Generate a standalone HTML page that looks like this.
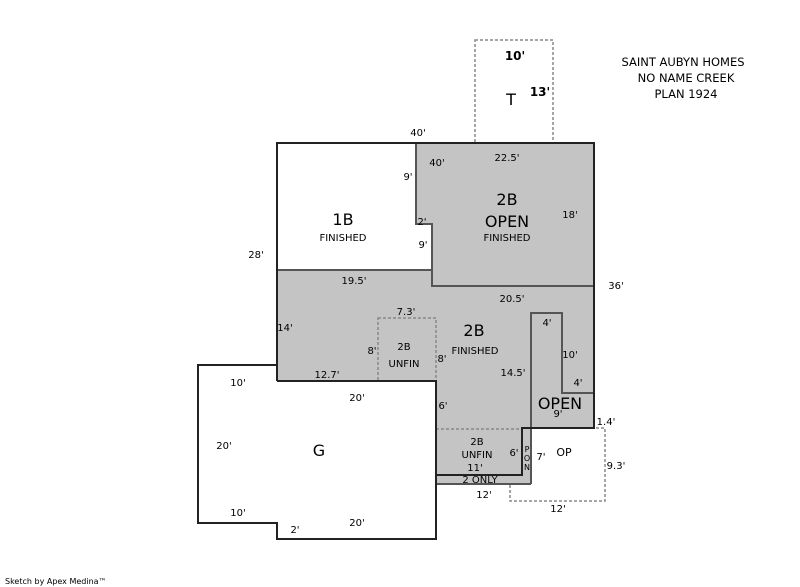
<!DOCTYPE html>
<html><head><style>
html,body{margin:0;padding:0;background:#fff;width:800px;height:587px;overflow:hidden}
svg text{font-family:"DejaVu Sans","Liberation Sans",sans-serif;font-size:10px;fill:#000}
.b{font-size:16px}
</style></head><body>
<svg width="800" height="587" viewBox="0 0 800 587">
<polygon points="416,143 594,143 594,428 531,428 531,484 436,484 436,381 277,381 277,270 432,270 432,224 416,224" fill="#c4c4c4"/>
<g fill="none" stroke="#888" stroke-width="1.5" stroke-dasharray="3,2">
<rect x="475" y="40" width="78" height="103"/>
<rect x="378" y="318" width="58" height="63"/>
<line x1="436" y1="429" x2="522" y2="429"/>
<polyline points="531,428 605,428 605,501 510,501 510,484"/>
</g>
<g fill="none" stroke="#555" stroke-width="2">
<polyline points="277,270 432,270 432,286 594,286"/>
<polyline points="416,143 416,224 432,224 432,270"/>
<polyline points="531,484 531,313 562,313 562,393 594,393"/>
<line x1="436" y1="484" x2="531" y2="484"/>
</g>
<g fill="none" stroke="#222" stroke-width="2">
<polyline points="277,381 277,143 594,143 594,428 522,428 522,475 436,475 436,539 277,539 277,523 198,523 198,365 277,365"/>
<polyline points="277,381 436,381 436,475"/>
</g>
<text x="418" y="136" text-anchor="middle">40'</text>
<text x="515" y="60" text-anchor="middle" font-weight="bold" style="font-size:12px">10'</text>
<text x="540" y="96" text-anchor="middle" font-weight="bold" style="font-size:12px">13'</text>
<text x="511" y="105" text-anchor="middle" class="b">T</text>
<text x="683" y="66" text-anchor="middle" style="font-size:11.5px">SAINT AUBYN HOMES</text>
<text x="686" y="82" text-anchor="middle" style="font-size:11.5px">NO NAME CREEK</text>
<text x="686" y="98" text-anchor="middle" style="font-size:11.5px">PLAN 1924</text>
<text x="437" y="166" text-anchor="middle">40'</text>
<text x="507" y="161" text-anchor="middle">22.5'</text>
<text x="408" y="180" text-anchor="middle">9'</text>
<text x="422" y="225" text-anchor="middle">2'</text>
<text x="423" y="248" text-anchor="middle">9'</text>
<text x="570" y="218" text-anchor="middle">18'</text>
<text x="343" y="225" text-anchor="middle" class="b">1B</text>
<text x="343" y="241" text-anchor="middle">FINISHED</text>
<text x="507" y="205" text-anchor="middle" class="b">2B</text>
<text x="507" y="227" text-anchor="middle" class="b">OPEN</text>
<text x="507" y="241" text-anchor="middle">FINISHED</text>
<text x="256" y="258" text-anchor="middle">28'</text>
<text x="616" y="289" text-anchor="middle">36'</text>
<text x="354" y="284" text-anchor="middle">19.5'</text>
<text x="512" y="302" text-anchor="middle">20.5'</text>
<text x="285" y="331" text-anchor="middle">14'</text>
<text x="406" y="315" text-anchor="middle">7.3'</text>
<text x="372" y="354" text-anchor="middle">8'</text>
<text x="442" y="362" text-anchor="middle">8'</text>
<text x="404" y="350" text-anchor="middle">2B</text>
<text x="404" y="367" text-anchor="middle">UNFIN</text>
<text x="474" y="336" text-anchor="middle" class="b">2B</text>
<text x="475" y="354" text-anchor="middle">FINISHED</text>
<text x="547" y="326" text-anchor="middle">4'</text>
<text x="570" y="358" text-anchor="middle">10'</text>
<text x="578" y="386" text-anchor="middle">4'</text>
<text x="513" y="376" text-anchor="middle">14.5'</text>
<text x="560" y="409" text-anchor="middle" class="b">OPEN</text>
<text x="558" y="417" text-anchor="middle">9'</text>
<text x="327" y="378" text-anchor="middle">12.7'</text>
<text x="606" y="425" text-anchor="middle">1.4'</text>
<text x="443" y="409" text-anchor="middle">6'</text>
<text x="477" y="445" text-anchor="middle">2B</text>
<text x="477" y="458" text-anchor="middle">UNFIN</text>
<text x="475" y="471" text-anchor="middle">11'</text>
<text x="480" y="483" text-anchor="middle">2 ONLY</text>
<text x="514" y="456" text-anchor="middle">6'</text>
<text x="527" y="452" text-anchor="middle" style="font-size:8px">P</text>
<text x="527" y="461" text-anchor="middle" style="font-size:8px">O</text>
<text x="527" y="470" text-anchor="middle" style="font-size:8px">N</text>
<text x="541" y="460" text-anchor="middle">7'</text>
<text x="564" y="456" text-anchor="middle" style="font-size:11px">OP</text>
<text x="616" y="469" text-anchor="middle">9.3'</text>
<text x="484" y="498" text-anchor="middle">12'</text>
<text x="558" y="512" text-anchor="middle">12'</text>
<text x="238" y="386" text-anchor="middle">10'</text>
<text x="357" y="401" text-anchor="middle">20'</text>
<text x="224" y="449" text-anchor="middle">20'</text>
<text x="319" y="456" text-anchor="middle" class="b">G</text>
<text x="238" y="516" text-anchor="middle">10'</text>
<text x="357" y="526" text-anchor="middle">20'</text>
<text x="295" y="533" text-anchor="middle">2'</text>
<text x="5" y="584" style="font-size:8px">Sketch by Apex Medina™</text>
</svg>
</body></html>
